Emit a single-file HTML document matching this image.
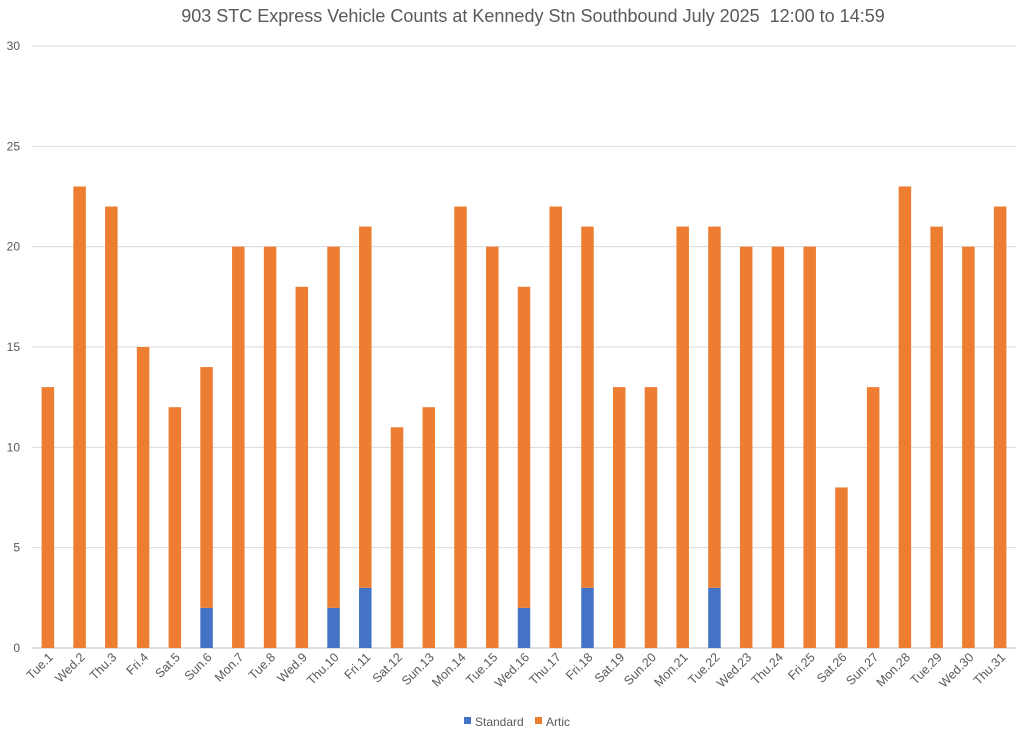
<!DOCTYPE html>
<html><head><meta charset="utf-8"><style>
body{margin:0;background:#fff;font-family:"Liberation Sans",sans-serif}
</style></head><body>
<svg id="chart" width="1024" height="735" xmlns="http://www.w3.org/2000/svg"></svg>
<script>
const categories=["Tue.1","Wed.2","Thu.3","Fri.4","Sat.5","Sun.6","Mon.7","Tue.8","Wed.9","Thu.10","Fri.11","Sat.12","Sun.13","Mon.14","Tue.15","Wed.16","Thu.17","Fri.18","Sat.19","Sun.20","Mon.21","Tue.22","Wed.23","Thu.24","Fri.25","Sat.26","Sun.27","Mon.28","Tue.29","Wed.30","Thu.31"];
const standard=[0,0,0,0,0,2,0,0,0,2,3,0,0,0,0,2,0,3,0,0,0,3,0,0,0,0,0,0,0,0,0];
const artic=[13,23,22,15,12,12,20,20,18,18,18,11,12,22,20,16,22,18,13,13,21,18,20,20,20,8,13,23,21,20,22];
const yTicks=[0,5,10,15,20,25,30];
const svg=document.getElementById('chart');
const NS='http://www.w3.org/2000/svg';
const X0=32,X1=1016,Y0=648,Y1=46,YMAX=30;
const band=(X1-X0)/categories.length;
const xc=i=>X0+band*(i+0.5);
const y=v=>Y0-(Y0-Y1)*v/YMAX;
function mk(t,a,txt){const e=document.createElementNS(NS,t);for(const k in a)e.setAttribute(k,a[k]);if(txt!=null)e.textContent=txt;svg.appendChild(e);return e;}
let t=mk('text',{x:533,y:22,'text-anchor':'middle','font-size':18,fill:'#595959',style:'white-space:pre'},'903 STC Express Vehicle Counts at Kennedy Stn Southbound July 2025  12:00 to 14:59');


yTicks.forEach(v=>{
  const g=mk('line',{x1:X0,x2:X1,y1:y(v),y2:y(v),stroke:v===0?'#bfbfbf':'#d9d9d9','stroke-width':1});
  
  
  const l=mk('text',{x:20,y:y(v)+4,'text-anchor':'end','font-size':12,fill:'#595959'},String(v));
  
  
});
const bw=12.5;
categories.forEach((c,i)=>{
  const s=standard[i],a=artic[i];
  if(s>0){const r=mk('rect',{x:xc(i)-bw/2,y:y(s),width:bw,height:y(0)-y(s),fill:'#4472c4'});
    
    }
  const r2=mk('rect',{x:xc(i)-bw/2,y:y(s+a),width:bw,height:y(s)-y(s+a),fill:'#ed7d31'});
  
  
  const lx=xc(i)+6,ly=658;
  const l=mk('text',{x:lx,y:ly,'text-anchor':'end','font-size':12.5,fill:'#595959',transform:`rotate(-45 ${lx} ${ly})`},c);
  
  
});
const lg=[['Standard','#4472c4',464],['Artic','#ed7d31',535]];
lg.forEach(([n,c,x])=>{
  const r=mk('rect',{x:x,y:717,width:7,height:7,fill:c});
  
  
  const l=mk('text',{x:x+11,y:726,'font-size':12,fill:'#595959'},n);
  
  
});
</script>
</body></html>
